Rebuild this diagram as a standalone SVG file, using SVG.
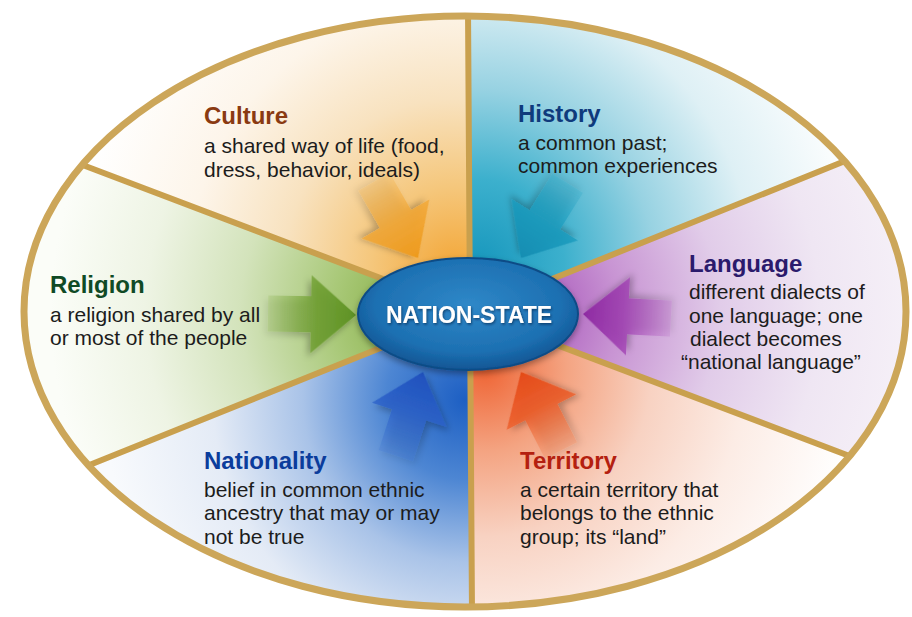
<svg xmlns="http://www.w3.org/2000/svg" width="912" height="617" viewBox="0 0 912 617">
<defs>
<style>
.title{font-family:"Liberation Sans",Arial,sans-serif;font-weight:bold;font-size:24px}
.body{font-family:"Liberation Sans",Arial,sans-serif;font-size:21px;fill:#1c1c1c}
.divider{stroke:#c9a04e;stroke-width:6;stroke-linecap:round}
.rim{fill:none;stroke:#cca659;stroke-width:7}
.hubtext{font-family:"Liberation Sans",Arial,sans-serif;font-weight:bold;font-size:23px;fill:#ffffff}
</style>
<clipPath id="oval"><ellipse cx="465" cy="311.5" rx="441" ry="295.5"/></clipPath>
<radialGradient id="gCulture" gradientUnits="userSpaceOnUse" cx="455" cy="270" r="380">
<stop offset="0" stop-color="#f3a636"/><stop offset="0.22" stop-color="#f5c77c"/><stop offset="0.45" stop-color="#f8e2bf"/><stop offset="0.7" stop-color="#fdf5ea"/><stop offset="1" stop-color="#ffffff"/></radialGradient>
<radialGradient id="gHistory" gradientUnits="userSpaceOnUse" cx="478" cy="265" r="390">
<stop offset="0" stop-color="#1797bd"/><stop offset="0.22" stop-color="#3cb0cd"/><stop offset="0.45" stop-color="#97d2e2"/><stop offset="0.7" stop-color="#def0f5"/><stop offset="1" stop-color="#ffffff"/></radialGradient>
<radialGradient id="gLanguage" gradientUnits="userSpaceOnUse" cx="520" cy="312" r="400">
<stop offset="0" stop-color="#a34bb6"/><stop offset="0.25" stop-color="#c894d3"/><stop offset="0.5" stop-color="#e1cce9"/><stop offset="0.75" stop-color="#efe6f3"/><stop offset="1" stop-color="#f6f1f8"/></radialGradient>
<radialGradient id="gTerritory" gradientUnits="userSpaceOnUse" cx="485" cy="370" r="370">
<stop offset="0" stop-color="#ef6535"/><stop offset="0.22" stop-color="#f4a482"/><stop offset="0.45" stop-color="#f8d2c2"/><stop offset="0.7" stop-color="#fcece5"/><stop offset="1" stop-color="#ffffff"/></radialGradient>
<radialGradient id="gNationality" gradientUnits="userSpaceOnUse" cx="465" cy="400" r="360">
<stop offset="0" stop-color="#1d5fc3"/><stop offset="0.22" stop-color="#4d86d3"/><stop offset="0.45" stop-color="#a9c3e8"/><stop offset="0.7" stop-color="#e4ebf6"/><stop offset="1" stop-color="#f8fafd"/></radialGradient>
<radialGradient id="gReligion" gradientUnits="userSpaceOnUse" cx="430" cy="312" r="380">
<stop offset="0" stop-color="#7ea838"/><stop offset="0.25" stop-color="#a8c877"/><stop offset="0.5" stop-color="#d3e3bb"/><stop offset="0.75" stop-color="#eef4e4"/><stop offset="1" stop-color="#fbfdf8"/></radialGradient>
<radialGradient id="gHub" cx="0.5" cy="0.42" r="0.6">
<stop offset="0" stop-color="#2f88c8"/><stop offset="0.7" stop-color="#1d70b2"/><stop offset="1" stop-color="#0f5290"/></radialGradient>
<linearGradient id="aOrange" x1="0" y1="0" x2="1" y2="0"><stop offset="0" stop-color="#f3b24a" stop-opacity="0.2"/><stop offset="0.55" stop-color="#f2a633" stop-opacity="0.85"/><stop offset="1" stop-color="#ee9a1c"/></linearGradient>
<linearGradient id="aCyan" x1="0" y1="0" x2="1" y2="0"><stop offset="0" stop-color="#2aa5c5" stop-opacity="0.2"/><stop offset="0.55" stop-color="#1b9abd" stop-opacity="0.85"/><stop offset="1" stop-color="#128db2"/></linearGradient>
<linearGradient id="aPurple" x1="0" y1="0" x2="1" y2="0"><stop offset="0" stop-color="#b45ec4" stop-opacity="0.2"/><stop offset="0.55" stop-color="#a040b2" stop-opacity="0.85"/><stop offset="1" stop-color="#8e2aa2"/></linearGradient>
<linearGradient id="aRed" x1="0" y1="0" x2="1" y2="0"><stop offset="0" stop-color="#f07a48" stop-opacity="0.2"/><stop offset="0.55" stop-color="#ec5a26" stop-opacity="0.85"/><stop offset="1" stop-color="#e44a18"/></linearGradient>
<linearGradient id="aBlue" x1="0" y1="0" x2="1" y2="0"><stop offset="0" stop-color="#3d72cf" stop-opacity="0.2"/><stop offset="0.55" stop-color="#2a5fc8" stop-opacity="0.85"/><stop offset="1" stop-color="#1e50bd"/></linearGradient>
<linearGradient id="aGreen" x1="0" y1="0" x2="1" y2="0"><stop offset="0" stop-color="#86b048" stop-opacity="0.2"/><stop offset="0.55" stop-color="#6e9e30" stop-opacity="0.85"/><stop offset="1" stop-color="#5e9224"/></linearGradient>
<filter id="shadow" x="-30%" y="-30%" width="160%" height="160%"><feDropShadow dx="-3" dy="4" stdDeviation="3" flood-color="#000" flood-opacity="0.3"/></filter>
<filter id="hubShadow" x="-20%" y="-30%" width="140%" height="160%"><feDropShadow dx="0" dy="3" stdDeviation="3" flood-color="#000" flood-opacity="0.35"/></filter>
<filter id="txtShadow" x="-10%" y="-30%" width="120%" height="160%"><feDropShadow dx="1" dy="1.5" stdDeviation="1" flood-color="#002040" flood-opacity="0.6"/></filter>
<path id="arrow" d="M0,0 L-45,-39 L-45,-18 L-88,-18 L-88,18 L-45,18 L-45,39 Z"/>
</defs>
<rect width="912" height="617" fill="#ffffff"/>
<g clip-path="url(#oval)">
<g id="culture-bg"><polygon points="470,312 -100,96 -100,-100 470,-100" fill="url(#gCulture)"/></g>
<g id="history-bg"><polygon points="470,312 470,-100 1100,-100 1030,87" fill="url(#gHistory)"/></g>
<g id="language-bg"><polygon points="470,312 1030,87 1100,87 1100,530 1043,530" fill="url(#gLanguage)"/></g>
<g id="territory-bg"><polygon points="470,312 1043,530 1100,700 472,700" fill="url(#gTerritory)"/></g>
<g id="nationality-bg"><polygon points="470,312 472,700 -100,700 -100,541" fill="url(#gNationality)"/></g>
<g id="religion-bg"><polygon points="470,312 -100,541 -100,96" fill="url(#gReligion)"/></g>
<g id="dividers">
<line class="divider" x1="470" y1="312" x2="468" y2="10"/>
<line class="divider" x1="470" y1="312" x2="472" y2="614"/>
<line class="divider" x1="470" y1="312" x2="80" y2="164"/>
<line class="divider" x1="470" y1="312" x2="850" y2="159"/>
<line class="divider" x1="470" y1="312" x2="82" y2="468"/>
<line class="divider" x1="470" y1="312" x2="860" y2="460"/>
</g>
</g>
<ellipse class="rim" cx="465" cy="311.5" rx="441" ry="295.5"/>
<g id="connectors">
<use href="#arrow" fill="url(#aOrange)" filter="url(#shadow)" transform="translate(418,258) rotate(60)"/>
<use href="#arrow" fill="url(#aCyan)" filter="url(#shadow)" transform="translate(521,258) rotate(122)"/>
<use href="#arrow" fill="url(#aPurple)" filter="url(#shadow)" transform="translate(583,314) rotate(183)"/>
<use href="#arrow" fill="url(#aRed)" filter="url(#shadow)" transform="translate(521,372) rotate(243)"/>
<use href="#arrow" fill="url(#aBlue)" filter="url(#shadow)" transform="translate(423,372) rotate(-72)"/>
<use href="#arrow" fill="url(#aGreen)" filter="url(#shadow)" transform="translate(356,315) rotate(1)"/>
</g>
<g id="nation-state">
<ellipse cx="468" cy="314" rx="110" ry="56" fill="url(#gHub)" stroke="#0c4c86" stroke-width="2" filter="url(#hubShadow)"/>
<text class="hubtext" x="469" y="323" text-anchor="middle" filter="url(#txtShadow)">NATION-STATE</text>
</g>
<g id="culture">
<text class="title" x="204" y="124" fill="#8a3a12">Culture</text>
<text class="body" x="204" y="153">a shared way of life (food,</text>
<text class="body" x="204" y="177">dress, behavior, ideals)</text>
</g>
<g id="history">
<text class="title" x="518" y="122" fill="#0f3a7c">History</text>
<text class="body" x="518" y="150">a common past;</text>
<text class="body" x="518" y="173">common experiences</text>
</g>
<g id="religion">
<text class="title" x="50" y="293" fill="#104a25">Religion</text>
<text class="body" x="50" y="322">a religion shared by all</text>
<text class="body" x="50" y="345">or most of the people</text>
</g>
<g id="language">
<text class="title" x="689" y="272" fill="#2b1a6c">Language</text>
<text class="body" x="689" y="299">different dialects of</text>
<text class="body" x="689" y="323">one language; one</text>
<text class="body" x="690" y="346">dialect becomes</text>
<text class="body" x="681" y="369">“national language”</text>
</g>
<g id="nationality">
<text class="title" x="204" y="469" fill="#0b3c9c">Nationality</text>
<text class="body" x="204" y="497">belief in common ethnic</text>
<text class="body" x="204" y="520">ancestry that may or may</text>
<text class="body" x="204" y="544">not be true</text>
</g>
<g id="territory">
<text class="title" x="520" y="469" fill="#b4200f">Territory</text>
<text class="body" x="520" y="497">a certain territory that</text>
<text class="body" x="520" y="520">belongs to the ethnic</text>
<text class="body" x="520" y="544">group; its “land”</text>
</g>
</svg>
